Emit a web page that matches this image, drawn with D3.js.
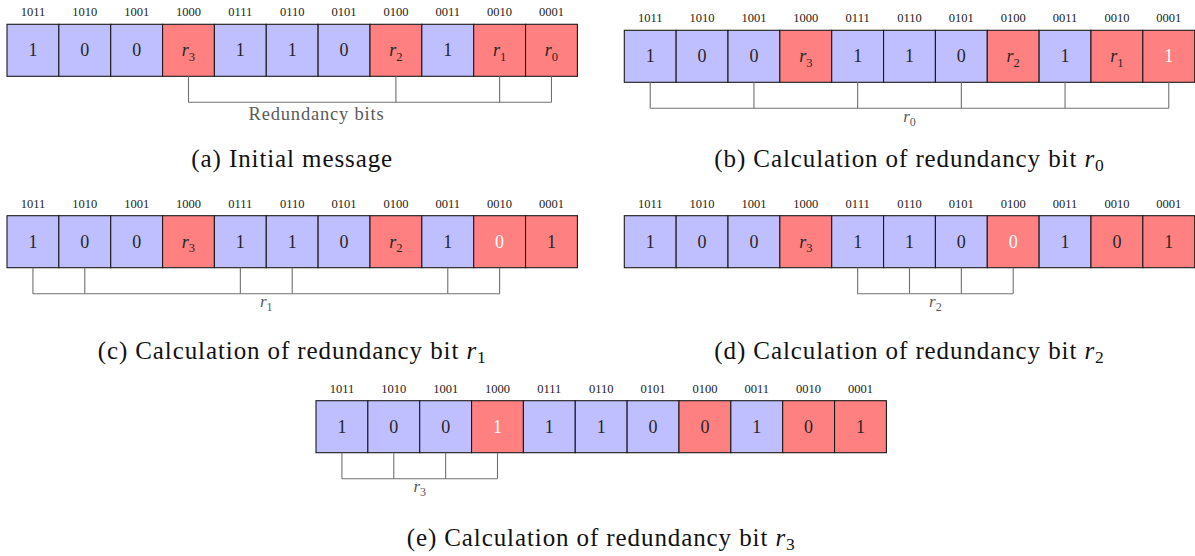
<!DOCTYPE html>
<html><head><meta charset="utf-8">
<script src="https://cdn.jsdelivr.net/npm/d3@7"></script>
<style>
html,body{margin:0;padding:0;background:#fff;}
</style></head>
<body><svg id="c" width="1195" height="556" font-family="'Liberation Serif', 'DejaVu Serif', serif"></svg>
<script>
// ---- data ----
const positions = ["1011","1010","1001","1000","0111","0110","0101","0100","0011","0010","0001"];
const parityPositions = ["1000","0100","0010","0001"];
const bitsA = ["1","0","0","r3","1","1","0","r2","1","r1","r0"];
const bitsB = ["1","0","0","r3","1","1","0","r2","1","r1","1"];
const bitsC = ["1","0","0","r3","1","1","0","r2","1","0","1"];
const bitsD = ["1","0","0","r3","1","1","0","0","1","0","1"];
const bitsE = ["1","0","0","1","1","1","0","0","1","0","1"];
const updatedA = null, updatedB = "0001", updatedC = "0010", updatedD = "0100", updatedE = "1000";
const bracketA = ["1000","0100","0010","0001"];
const bracketB = ["1011","1001","0111","0101","0011","0001"];
const bracketC = ["1011","1010","0111","0110","0011","0010"];
const bracketD = ["0111","0110","0101","0100"];
const bracketE = ["1011","1010","1001","1000"];
const bracketLabels = ["Redundancy bits","r0","r1","r2","r3"];
const captionTags = ["(a)","(b)","(c)","(d)","(e)"];
const captionTexts = ["Initial message","Calculation of redundancy bit r0","Calculation of redundancy bit r1","Calculation of redundancy bit r2","Calculation of redundancy bit r3"];

// ---- layout ----
const W = 570.4, H = 52;
const panels = [
  {bits:bitsA, upd:updatedA, br:bracketA, x0:7,     y0:24.3,  capY:167, labelX:316.5},
  {bits:bitsB, upd:updatedB, br:bracketB, x0:624.3, y0:30.3,  capY:167},
  {bits:bitsC, upd:updatedC, br:bracketC, x0:7,     y0:215.7, capY:359},
  {bits:bitsD, upd:updatedD, br:bracketD, x0:624.3, y0:215.7, capY:359},
  {bits:bitsE, upd:updatedE, br:bracketE, x0:316,   y0:400.7, capY:546}
];
const BLUE = "#bfbfff", RED = "#ff8080";
const FONT = "'Liberation Serif', 'DejaVu Serif', serif";
const svg = d3.select("#c");

function mathText(sel, str, size, subSize){
  sel.append("tspan").attr("font-style","italic").attr("font-size",size).text(str[0]);
  sel.append("tspan").attr("font-size",subSize).attr("dy", size*0.25).text(str.slice(1));
}
function isMath(s){ return /^r\d$/.test(s); }

panels.forEach((p,pi)=>{
  const g = svg.append("g").attr("font-family", FONT);
  const x = d3.scaleBand().domain(positions).range([p.x0, p.x0+W]).padding(0);
  const y0 = p.y0, y1 = p.y0 + H;
  const cells = g.selectAll("g.cell").data(positions.map((pos,i)=>({pos, v:p.bits[i]}))).join("g");
  cells.append("rect")
    .attr("x", d=>x(d.pos)).attr("y", y0).attr("width", x.bandwidth()).attr("height", H)
    .attr("fill", d=>parityPositions.includes(d.pos) ? RED : BLUE)
    .attr("stroke","#1a1a1a").attr("stroke-width",1.1);
  cells.append("text")
    .attr("x", d=>x(d.pos)+x.bandwidth()/2).attr("y", y0-8)
    .attr("text-anchor","middle").attr("font-size",12.5).attr("fill","#222")
    .attr("font-family", FONT)
    .text(d=>d.pos);
  cells.each(function(d){
    const t = d3.select(this).append("text")
      .attr("x", x(d.pos)+x.bandwidth()/2).attr("y", y0+H/2+6)
      .attr("text-anchor","middle").attr("font-family", FONT)
      .attr("fill", d.pos===p.upd ? "#ffffff" : "#262626");
    if(isMath(d.v)) mathText(t, d.v, 18, 12.5);
    else t.attr("font-size",18).text(d.v);
  });
  // bracket
  const by = y1 + 26;
  const cx = p.br.map(s=>x(s)+x.bandwidth()/2);
  g.selectAll("line.v").data(cx).join("line")
    .attr("x1",d=>d).attr("x2",d=>d).attr("y1",y1).attr("y2",by)
    .attr("stroke","#707070").attr("stroke-width",1.1);
  g.append("line").attr("x1",d3.min(cx)).attr("x2",d3.max(cx)).attr("y1",by).attr("y2",by)
    .attr("stroke","#707070").attr("stroke-width",1.1);
  const lab = bracketLabels[pi];
  const lx = p.labelX !== undefined ? p.labelX : (d3.min(cx)+d3.max(cx))/2;
  const lt = g.append("text").attr("x",lx).attr("text-anchor","middle").attr("fill","#5a5a5a").attr("font-family", FONT);
  if(isMath(lab)){ lt.attr("y", by+13.5); mathText(lt, lab, 17, 12); }
  else { lt.attr("y", by+18).attr("font-size",18.5).attr("letter-spacing",0.8).text(lab); }
  // caption
  const ccx = p.x0 + W/2;
  const ct = g.append("text").attr("x",ccx).attr("y",p.capY).attr("text-anchor","middle")
    .attr("font-size",25).attr("fill","#111").attr("letter-spacing",0.9).attr("font-family", FONT);
  const txt = captionTexts[pi];
  const m = txt.match(/^(.*) (r\d)$/);
  ct.append("tspan").text(captionTags[pi] + " " + (m ? m[1] + " " : txt));
  if(m){
    ct.append("tspan").attr("font-style","italic").text("r");
    ct.append("tspan").attr("font-size",17.5).attr("dy",4).text(m[2].slice(1));
  }
});
</script></body></html>
